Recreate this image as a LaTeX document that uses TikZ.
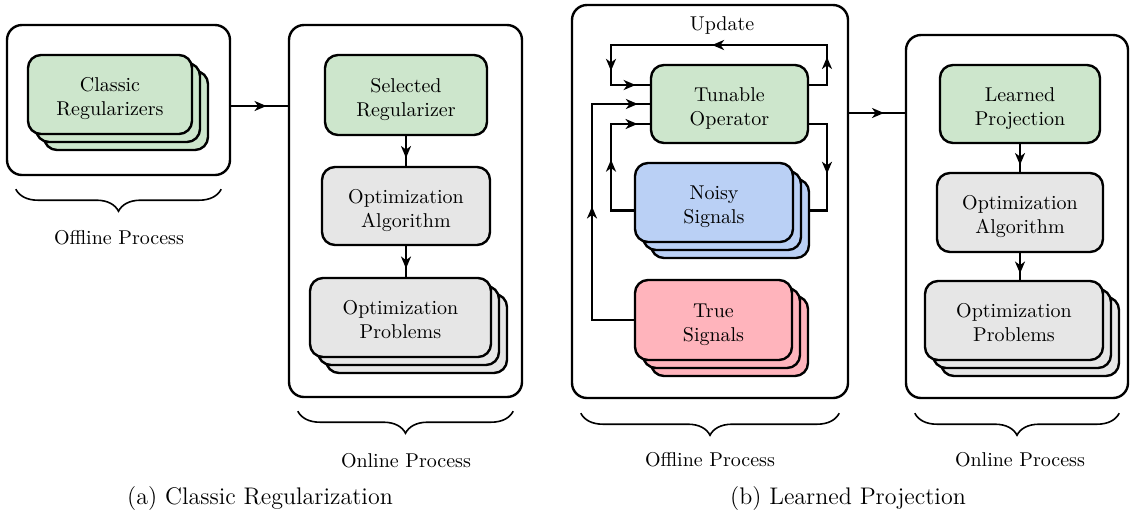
\documentclass[tikz,border=0pt]{standalone}
\usepackage{tikz}
\usetikzlibrary{arrows.meta}
\usetikzlibrary{shadows}
\usetikzlibrary{decorations.pathreplacing}
\usetikzlibrary{decorations.markings}

\definecolor{regGreen}{RGB}{205,230,204}
\definecolor{optGray}{RGB}{230,230,230}
\definecolor{noisyBlue}{RGB}{186,208,245}
\definecolor{truePink}{RGB}{255,180,188}

\begin{document}
\begin{tikzpicture}[x=0.5pt,y=-0.5pt,line width=1.2pt]
\tikzstyle{panel}=[rectangle,draw,rounded corners=7.5pt]
\tikzstyle{box}=[rectangle,align=center,draw,rounded corners=6.5pt,text height=21pt,text depth=0pt]
\tikzstyle{stack}=[box,double copy shadow={shadow xshift=4pt,shadow yshift=-4pt}]
\tikzstyle{conn}=[draw]
\tikzstyle{arrowat}=[postaction={decorate,decoration={markings,
    mark=at position #1 with {\arrow[xshift=3.5pt]{Stealth[length=6pt,width=5pt,inset=1.8pt]}}}}]
\tikzstyle{brace}=[decorate,decoration={brace,mirror,amplitude=11pt},line width=0.8pt]
\useasboundingbox (0,0) rectangle (1130,516);

% (a) classic regularization
\node[panel,minimum width=111.5pt,minimum height=75pt] at(118.5,100) (offA) {};
\node[stack,fill=regGreen,minimum width=82pt,minimum height=39.5pt] at(110,94.5) (classic) {Classic\\Regularizers};
\node[panel,minimum width=116.5pt,minimum height=186pt] at(405.5,211) (onA) {};
\node[box,fill=regGreen,minimum width=81pt,minimum height=40pt] at(406,95) (sel) {Selected\\Regularizer};
\node[box,fill=optGray,minimum width=84pt,minimum height=39pt] at(406,206) (algA) {Optimization\\Algorithm};
\node[stack,fill=optGray,minimum width=90.5pt,minimum height=39.5pt] at(400.5,317.5) (probA) {Optimization\\Problems};

\coordinate (arrA) at (0,106);
\draw[conn,arrowat=.5] (offA.east |- arrA) -- (onA.west |- arrA);
\draw[conn,arrowat=.5] (sel.south) -- (algA.north);
\draw[conn,arrowat=.5] (algA.south) -- (algA.south |- probA.north);

\draw[brace] ([shift={(10,13)}]offA.south west) -- ([shift={(-10,13)}]offA.south east);
\draw[brace] ([shift={(10,13)}]onA.south west) -- ([shift={(-10,13)}]onA.south east);
\node at(119,238) (offAtxt) {Offline Process};
\node at(406,461) (onAtxt) {Online Process};
\node[font=\large] at(260,498) (capA) {(a) Classic Regularization};

% (b) learned projection
\node[panel,minimum width=138pt,minimum height=196.5pt] at(710,201.5) (offB) {};
\node at(722,25) (update) {Update};
\node[box,fill=regGreen,minimum width=78.5pt,minimum height=39pt] at(729.5,104) (tun) {Tunable\\Operator};
\node[stack,fill=noisyBlue,minimum width=79pt,minimum height=39.5pt] at(714,202.5) (noisySig) {Noisy\\Signals};
\node[stack,fill=truePink,minimum width=78.5pt,minimum height=40pt] at(713.5,320) (trueSig) {True\\Signals};
\node[panel,minimum width=111pt,minimum height=181.5pt] at(1017,216.5) (onB) {};
\node[box,fill=regGreen,minimum width=80pt,minimum height=39pt] at(1020,104) (learn) {Learned\\Projection};
\node[box,fill=optGray,minimum width=83pt,minimum height=39.5pt] at(1020,212.5) (algB) {Optimization\\Algorithm};
\node[stack,fill=optGray,minimum width=89pt,minimum height=39.5pt] at(1014,320.5) (probB) {Optimization\\Problems};

% update loop around the tunable operator
\coordinate (busR) at (827,0);
\coordinate (busL) at (611,0);
\coordinate (busLL) at (592,0);
\coordinate (busTop) at (0,45);
\coordinate (tunInA) at ([yshift=9.5pt]tun.west);
\coordinate (tunInC) at ([yshift=-10pt]tun.west);
\coordinate (tunOutA) at ([yshift=9.5pt]tun.east);
\coordinate (tunOutB) at ([yshift=-10pt]tun.east);
\coordinate (noisyIn) at ([xshift=8pt,yshift=-4pt]noisySig.east);
\coordinate (noisyOut) at ([yshift=-4pt]noisySig.west);
\draw[conn,arrowat=.11,arrowat=.47,arrowat=.83,arrowat=.94] (tunOutA) -| (busR |- busTop) -- (busL |- busTop) |- (tunInA);
\draw[conn,arrowat=.47,arrowat=.94] (trueSig.west) -| (busLL |- tun.west) -- (tun.west);
\draw[conn,arrowat=.45,arrowat=.87] (noisyOut) -| (busL |- tunInC) -- (tunInC);
\draw[conn,arrowat=.5] (tunOutB) -| (busR |- noisyIn) -- (noisyIn);

\coordinate (arrB) at (0,113);
\draw[conn,arrowat=.5] (offB.east |- arrB) -- (onB.west |- arrB);
\draw[conn,arrowat=.5] (learn.south) -- (algB.north);
\draw[conn,arrowat=.5] (algB.south) -- (algB.south |- probB.north);

\draw[brace] ([shift={(10,14)}]offB.south west) -- ([shift={(-10,14)}]offB.south east);
\draw[brace] ([shift={(10,14)}]onB.south west) -- ([shift={(-10,14)}]onB.south east);
\node at(710,460) (offBtxt) {Offline Process};
\node at(1020,460) (onBtxt) {Online Process};
\node[font=\large] at(848,498) (capB) {(b) Learned Projection};
\end{tikzpicture}
\end{document}
